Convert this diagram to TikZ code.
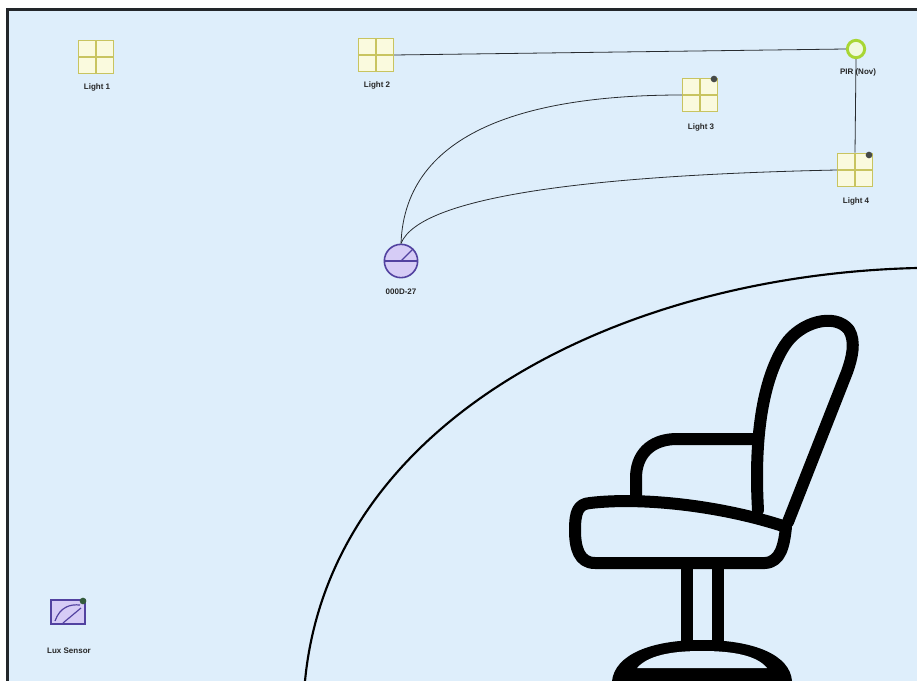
\documentclass[tikz,border=0pt]{standalone}
\usepackage{fontspec}
\setmainfont{Liberation Sans}
\definecolor{canvas}{RGB}{222,238,251}
\definecolor{frameline}{RGB}{34,38,42}
\definecolor{lampedge}{RGB}{200,196,96}
\definecolor{lampfill}{RGB}{250,250,222}
\definecolor{piredge}{RGB}{168,214,52}
\definecolor{pirfill}{RGB}{240,250,222}
\definecolor{devedge}{RGB}{82,66,160}
\definecolor{devfill}{RGB}{214,204,246}
\definecolor{tagdot}{RGB}{70,74,72}
\definecolor{luxdot}{RGB}{52,92,60}
\definecolor{wire}{RGB}{40,44,48}
\begin{document}
\begin{tikzpicture}[x=0.75pt,y=-0.75pt,
  lbl/.style={font=\fontsize{6}{7}\selectfont\bfseries, text=black!85, inner sep=0pt},
  lamp/.style={draw=lampedge, fill=lampfill, line width=1pt, rectangle,
    minimum width=26pt, minimum height=25pt, inner sep=0pt,
    path picture={
      \draw[lampedge, line width=0.9pt]
        (path picture bounding box.north) -- (path picture bounding box.south)
        (path picture bounding box.west) -- (path picture bounding box.east);}},
  tagdot/.style={circle, fill=tagdot, inner sep=0pt, minimum size=5pt},
  wire/.style={draw=wire, line width=0.6pt},
  chair/.style={line width=9pt, line cap=round, line join=round, black}]

% canvas and frame
\useasboundingbox (0,0) rectangle (917,681);
\fill[white] (0,0) rectangle (917,681);
\fill[canvas] (7,9) rectangle (917,681);
\draw[frameline, line width=2.2pt] (7.5,681) -- (7.5,9.5) -- (917,9.5);

% large floor arc
\draw[black, line width=1.6pt] (305,681) .. controls (330,420) and (620,275) .. (917,268);

% light fixtures
\node[lamp] (L1) at (96,57) {};
\node[lamp] (L2) at (376,55) {};
\node[lamp] (L3) at (700,95) {};
\node[lamp] (L4) at (855,170) {};
\node[tagdot] (d3) at (714,79) {};
\node[tagdot] (d4) at (869,155) {};

% motion sensor
\node[circle, draw=piredge, fill=pirfill, line width=2.2pt, minimum size=13pt, inner sep=0pt] (PIR) at (856,49) {};

% controller device
\node[circle, draw=devedge, fill=devfill, line width=1.2pt, minimum size=25pt, inner sep=0pt] (DEV) at (401,261) {};
\draw[devedge, line width=1pt] (DEV.west) -- (DEV.east);
\draw[devedge, line width=1pt] (DEV.center) -- (DEV.north east);

% lux sensor
\node[rectangle, draw=devedge, fill=devfill, line width=1.4pt, minimum width=25pt, minimum height=18pt, inner sep=0pt] (LUX) at (68,612) {};
\draw[devedge, line width=0.9pt] (55,621) .. controls (60,607) and (70,604) .. (80,605);
\draw[devedge, line width=0.9pt] (63,623) -- (81,608);
\node[circle, fill=luxdot, inner sep=0pt, minimum size=5pt] (luxd) at (83,601) {};

% labels
\node[lbl] (t1) at (97,87) {Light 1};
\node[lbl] (t2) at (377,85) {Light 2};
\node[lbl] (t3) at (701,127) {Light 3};
\node[lbl] (tp) at (858,72) {PIR (Nov)};
\node[lbl] (t4) at (856,201) {Light 4};
\node[lbl] (td) at (401,292) {000D-27};
\node[lbl] (tl) at (69,651) {Lux Sensor};

% connections
\draw[wire] (L2.east) -- (PIR.west);
\draw[wire] (PIR.south) -- (L4.north);
\draw[wire] (L3.west) .. controls (530,95) and (405,130) .. (DEV.north);
\draw[wire] (L4.west) .. controls (600,175) and (420,195) .. (DEV.north);

% chair
\draw[chair] (758,510) .. controls (754,440) and (762,380) .. (785,345)
  .. controls (800,322) and (835,312) .. (849,330)
  .. controls (856,342) and (852,358) .. (847,372) -- (788,522);
\draw[chair] (636,498) -- (636,478) .. controls (636,455) and (650,440) .. (675,439) -- (757,439);
\draw[chair] (590,503) .. controls (640,497) and (720,505) .. (786,527)
  .. controls (784,545) and (781,562) .. (765,563) -- (595,563)
  .. controls (579,563) and (575,548) .. (575,530)
  .. controls (575,512) and (578,504) .. (590,503) -- cycle;
\draw[chair] (687,566) -- (687,642);
\draw[chair] (718,566) -- (718,642);
\fill[black] (612,681) .. controls (615,655) and (650,640) .. (702,640)
  .. controls (754,640) and (790,655) .. (792,681) -- cycle;
\fill[canvas] (637,668) .. controls (650,653) and (680,651) .. (702,651)
  .. controls (724,651) and (755,653) .. (767,668) -- cycle;
\end{tikzpicture}
\end{document}
